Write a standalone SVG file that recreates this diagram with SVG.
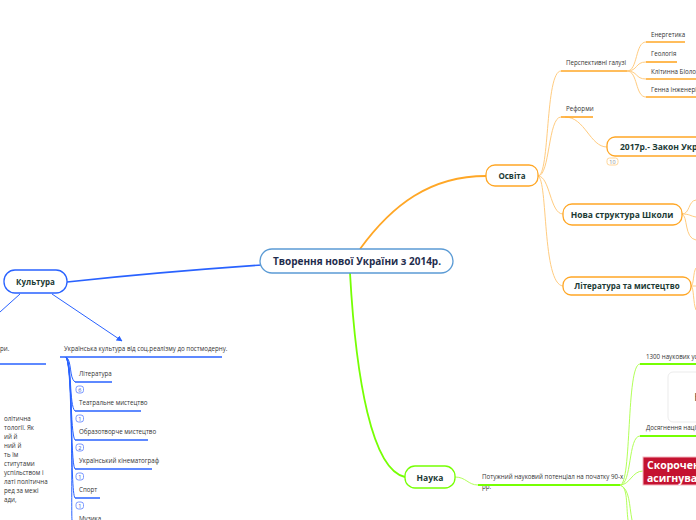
<svg xmlns="http://www.w3.org/2000/svg" width="696" height="520" viewBox="0 0 696 520">
<style>
.nt{font-family:"Open Sans","Noto Sans",sans-serif;font-weight:bold;fill:#1b3a34;text-anchor:middle}
.sm{font-family:"Open Sans","Noto Sans",sans-serif;font-size:6.2px;fill:#333}
.bd{font-family:"Open Sans","Noto Sans",sans-serif;font-size:5.5px;fill:#3355cc;text-anchor:middle}
.ob{fill:#fff;stroke:#ffa726;stroke-width:1.3}
.oc{fill:none;stroke:#ffcc80;stroke-width:1}
.ou{stroke:#ffa726;stroke-width:1.6}
.bc{fill:none;stroke:#2962ff;stroke-width:1}
.bu{stroke:#2962ff;stroke-width:1.5}
.gc{fill:none;stroke:#b2ff59;stroke-width:1}
.gu{stroke:#76ff03;stroke-width:2}
.bg{fill:#fff;stroke:#5b7fff;stroke-width:0.8}
</style>
<defs>
<marker id="ar" viewBox="0 0 10 10" refX="9" refY="5" markerWidth="6" markerHeight="6" orient="auto"><path d="M0 0L10 5L0 10z" fill="#2962ff"/></marker>
</defs>
<rect width="696" height="520" fill="#fff"/>
<g id="connectors">
<path d="M360 249C392 205 430 176 486 176" fill="none" stroke="#ffa726" stroke-width="1.8"/>
<path d="M262 265Q160 272 67 282" fill="none" stroke="#2962ff" stroke-width="1.6"/>
<path d="M350 273C356 380 372 470 405 477" fill="none" stroke="#76ff03" stroke-width="1.8"/>
<path class="oc" d="M538 176C550 176 545 71 561 71"/>
<path class="oc" d="M538 176C550 176 548 117 561 117"/>
<path class="oc" d="M538 176C550 176 550 214 563 214"/>
<path class="oc" d="M538 176C548 180 542 284 563 286"/>
<path class="oc" d="M565 117C585 117 590 147 607 147"/>
<path class="oc" d="M627 71C638 71 635 42 646 42"/>
<path class="oc" d="M627 71C638 71 635 62 646 62"/>
<path class="oc" d="M627 71C638 71 635 79 646 79"/>
<path class="oc" d="M627 71C638 71 635 97 646 97"/>
<path class="oc" d="M682 214C690 214 688 201 696 200"/>
<path class="oc" d="M682 214C690 214 690 216 696 217"/>
<path class="oc" d="M682 214C688 216 684 238 696 240"/>
<path class="oc" d="M691 286C694 285 693 272 696 268"/>
<path class="oc" d="M691 286L696 286"/>
<path class="oc" d="M691 286C694 287 693 303 696 310"/>
<path class="bc" d="M20 294L0 312"/>
<path class="bc" d="M52 294L122 341" marker-end="url(#ar)"/>
<path class="bc" d="M66 357C72 360 69 378 75 382"/>
<path class="bc" d="M66 357C72 362 69 406 75 411"/>
<path class="bc" d="M66 357C72 364 70 434 75 440"/>
<path class="bc" d="M66 357C73 366 70 463 75 469"/>
<path class="bc" d="M66 357C73 368 70 492 75 498"/>
<path class="bc" d="M66 357C74 370 71 510 72 520"/>
<path class="gc" d="M455 477C466 477 468 485 478 485"/>
<path class="gc" d="M620 485C632 485 626 364 640 364"/>
<path class="gc" d="M620 485C632 485 628 436 640 436"/>
<path class="gc" d="M620 485C630 485 632 471 643 471"/>
<path class="gc" d="M620 485C628 487 626 505 628 520"/>
<path class="gc" d="M620 485C630 489 629 505 632 520"/>
</g>
<g id="root">
<rect x="260" y="249" width="193" height="24" rx="12" fill="#fff" stroke="#5b9bd5" stroke-width="1.3"/>
<text class="nt" x="357" y="264.5" font-size="10" style="fill:#1f2d4d">Творення нової України з 2014р.</text>
</g>
<g id="osvita">
<rect class="ob" x="486" y="165" width="52" height="21" rx="9"/>
<text class="nt" x="512" y="179" font-size="8">Освіта</text>
</g>
<g id="perspektyvni">
<text class="sm" x="566" y="65">Перспективні галузі</text>
<line class="ou" x1="561" y1="71" x2="627" y2="71"/>
</g>
<g id="energetyka"><text class="sm" x="651" y="37">Енергетика</text><line class="ou" x1="646" y1="42" x2="685" y2="42"/></g>
<g id="geologiya"><text class="sm" x="651" y="56">Геологія</text><line class="ou" x1="646" y1="62" x2="677" y2="62"/></g>
<g id="klitynna"><text class="sm" x="651" y="74">Клітинна Біологія</text><line class="ou" x1="646" y1="79" x2="696" y2="79"/></g>
<g id="genna"><text class="sm" x="651" y="92">Генна інженерія</text><line class="ou" x1="646" y1="97" x2="696" y2="97"/></g>
<g id="reformy"><text class="sm" x="566" y="111">Реформи</text><line class="ou" x1="561" y1="117" x2="593" y2="117"/></g>
<g id="zakon">
<rect class="ob" x="607" y="137" width="110" height="19" rx="8"/>
<text class="nt" x="620" y="150" font-size="8.5" style="text-anchor:start">2017р.- Закон України</text>
<rect x="607" y="158" width="11" height="7" rx="2.5" fill="#fff" stroke="#ffcc80" stroke-width="0.8"/>
<text x="612.5" y="163.6" font-family="Open Sans,sans-serif" font-size="5.5" fill="#888" text-anchor="middle">10</text>
</g>
<g id="nova">
<rect class="ob" x="563" y="204" width="119" height="21" rx="9"/>
<text class="nt" x="622" y="217.5" font-size="8.5">Нова структура Школи</text>
</g>
<g id="literatura-mystetstvo">
<rect class="ob" x="563" y="277" width="128" height="18" rx="8"/>
<text class="nt" x="627" y="289" font-size="8">Література та мистецтво</text>
</g>
<g id="kultura">
<rect x="4" y="270" width="63" height="23" rx="11" fill="#fff" stroke="#2962ff" stroke-width="1.3"/>
<text class="nt" x="35.5" y="285" font-size="8">Культура</text>
</g>
<g id="left-branch">
<text class="sm" x="0" y="351">ри.</text>
<line class="bu" x1="0" y1="364" x2="46" y2="364"/>
<text class="sm" x="4" y="421">олітична</text>
<text class="sm" x="4" y="430">тології. Як</text>
<text class="sm" x="4" y="439">ий й</text>
<text class="sm" x="4" y="448">ний й</text>
<text class="sm" x="4" y="457">ть їм</text>
<text class="sm" x="4" y="466">ститутами</text>
<text class="sm" x="4" y="475">успільством і</text>
<text class="sm" x="4" y="484">латі політична</text>
<text class="sm" x="4" y="493">ред за межі</text>
<text class="sm" x="4" y="502">ади,</text>
</g>
<g id="ukr-kultura">
<text class="sm" x="64" y="351">Українська культура від соц.реалізму до постмодерну.</text>
<line class="bu" x1="60" y1="357" x2="222" y2="357"/>
</g>
<g id="lit"><text class="sm" x="79" y="376">Література</text><line class="bu" x1="75" y1="382" x2="112" y2="382"/>
<rect class="bg" x="76" y="386" width="7.5" height="7" rx="2.5"/><text class="bd" x="79.8" y="391.7">6</text></g>
<g id="teatr"><text class="sm" x="79" y="405">Театральне мистецтво</text><line class="bu" x1="75" y1="411" x2="141" y2="411"/>
<rect class="bg" x="76" y="415" width="7.5" height="7" rx="2.5"/><text class="bd" x="79.8" y="420.7">1</text></g>
<g id="obraz"><text class="sm" x="79" y="434">Образотворче мистецтво</text><line class="bu" x1="75" y1="440" x2="148" y2="440"/>
<rect class="bg" x="76" y="444" width="7.5" height="7" rx="2.5"/><text class="bd" x="79.8" y="449.7">2</text></g>
<g id="kino"><text class="sm" x="79" y="463">Український кінематограф</text><line class="bu" x1="75" y1="469" x2="152" y2="469"/>
<rect class="bg" x="76" y="473" width="7.5" height="7" rx="2.5"/><text class="bd" x="79.8" y="478.7">1</text></g>
<g id="sport"><text class="sm" x="79" y="492">Спорт</text><line class="bu" x1="75" y1="498" x2="100" y2="498"/>
<rect class="bg" x="76" y="502" width="7.5" height="7" rx="2.5"/><text class="bd" x="79.8" y="507.7">1</text></g>
<g id="muzyka"><text class="sm" x="79" y="521">Музика</text></g>
<g id="nauka">
<rect x="405" y="466" width="50" height="22" rx="10" fill="#fff" stroke="#76ff03" stroke-width="1.3"/>
<text class="nt" x="430" y="480.5" font-size="8.5">Наука</text>
</g>
<g id="potuzhnyi">
<text class="sm" x="482" y="479">Потужний науковий потенціал на початку 90-х</text>
<text class="sm" x="482" y="489">рр.</text>
<line class="gu" x1="478" y1="485" x2="620" y2="485"/>
</g>
<g id="n1300">
<text class="sm" x="646" y="359">1300 наукових установ</text>
<line class="gu" x1="640" y1="364" x2="696" y2="364"/>
<rect x="668" y="372" width="40" height="50" rx="5" fill="#fff" stroke="#e6e6e6" stroke-width="0.8"/>
<text x="694.3" y="401" font-family="Open Sans,sans-serif" font-size="11" fill="#333">Н</text>
</g>
<g id="dosyagnennya">
<text class="sm" x="646" y="430">Досягнення нації</text>
<line class="gu" x1="640" y1="436" x2="696" y2="436"/>
</g>
<g id="skorochennya">
<rect x="643" y="457" width="70" height="28" fill="#c41230" stroke="#f5b5c0" stroke-width="1"/>
<text x="647" y="469" font-family="Open Sans,sans-serif" font-size="10.5" font-weight="bold" fill="#fff">Скорочення</text>
<text x="647" y="481.5" font-family="Open Sans,sans-serif" font-size="10.5" font-weight="bold" fill="#fff">асигнування</text>
</g>
</svg>
